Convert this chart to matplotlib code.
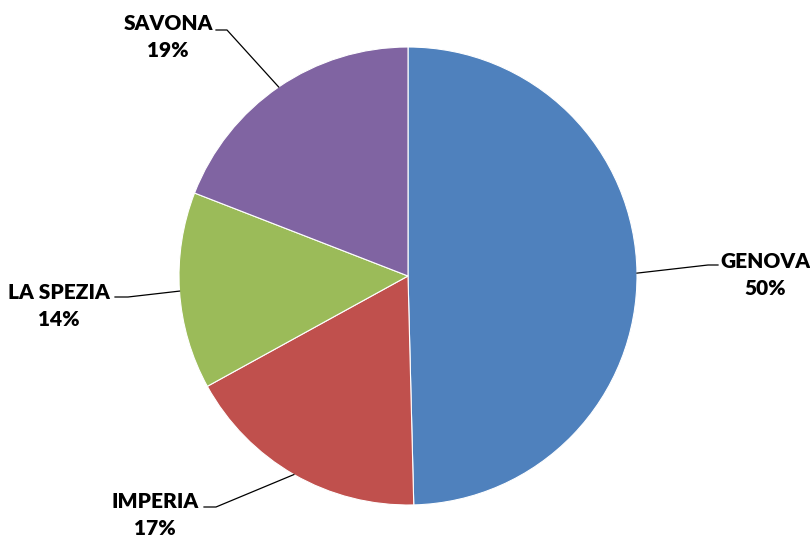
import numpy as np
import matplotlib.pyplot as plt

# dati (percentuali)
province = ["GENOVA", "IMPERIA", "LA SPEZIA", "SAVONA"]
quote = [49.6, 17.4, 13.9, 19.1]
colori = ["#4F81BD", "#C0504D", "#9BBB59", "#8064A2"]

# layout in pixel (origine in basso a sinistra)
centro = (408, 264)
raggio = 229
pos_testo = [(765, 265), (155, 25), (59, 234), (168, 503)]
gomito = [(708, 275), (216, 33), (128, 243), (227, 510)]
fine_linea = [(718, 275), (204, 33), (115, 243), (216, 510)]

plt.rcParams['font.family'] = ['Lato', 'DejaVu Sans']

fig = plt.figure(figsize=(8.1, 5.4), dpi=100)
ax = fig.add_axes([0, 0, 1, 1])

wedges, _ = ax.pie(quote, colors=colori, startangle=90, counterclock=False,
                   center=centro, radius=raggio, frame=True,
                   wedgeprops=dict(edgecolor='white', linewidth=0.8))
ax.set_xlim(0, 810)
ax.set_ylim(0, 540)
ax.set_aspect('equal')
ax.axis('off')

for i, w in enumerate(wedges):
    ang = np.deg2rad((w.theta1 + w.theta2) / 2)
    x0 = centro[0] + raggio * np.cos(ang)
    y0 = centro[1] + raggio * np.sin(ang)
    ax.plot([x0, gomito[i][0], fine_linea[i][0]],
            [y0, gomito[i][1], fine_linea[i][1]], color='black', lw=0.9)
    testo = province[i] + "\n" + "%d%%" % round(quote[i])
    ax.text(pos_testo[i][0], pos_testo[i][1], testo, ha='center', va='center',
            fontsize=15, fontweight='heavy', linespacing=1.5)

fig.savefig("out.png", dpi=100)
